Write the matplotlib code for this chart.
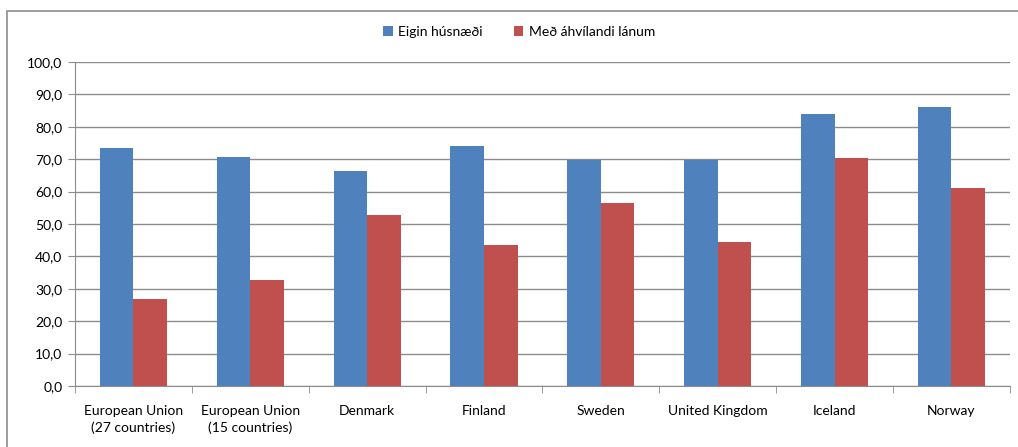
import matplotlib
matplotlib.use("Agg")
import numpy as np
import matplotlib.pyplot as plt
from matplotlib.patches import Rectangle

categories = ["European Union\n(27 countries)", "European Union\n(15 countries)", "Denmark",
              "Finland", "Sweden", "United Kingdom", "Iceland", "Norway"]
eigin = [73.5, 70.8, 66.5, 74.1, 69.9, 69.9, 84.1, 86.1]
lan = [27.0, 32.8, 52.9, 43.6, 56.4, 44.3, 70.5, 61.2]
series_names = ["Eigin húsnæði", "Með áhvílandi lánum"]

plt.rcParams['font.family'] = ['Lato', 'DejaVu Sans']
fig = plt.figure(figsize=(10.18, 4.47), dpi=100)
ax = fig.add_axes([0.0737, 0.1365, 0.9183, 0.7248])

x = np.arange(len(categories))
w = 0.287
ax.bar(x - w / 2, eigin, w, color="#4F81BD", label=series_names[0], zorder=3)
ax.bar(x + w / 2, lan, w, color="#C0504D", label=series_names[1], zorder=3)

ax.set_xlim(-0.5, len(categories) - 0.5)
ax.set_ylim(0, 100)
ax.set_yticks(np.arange(0, 101, 10))
ax.set_yticklabels([f"{v:.1f}".replace(".", ",") for v in np.arange(0, 101, 10)], fontsize=10)
ax.yaxis.grid(True, color="#8c8c8c", linewidth=1, zorder=0)

ax.set_xticks(x)
ax.set_xticklabels(categories, fontsize=10, linespacing=1.35)
ax.set_xticks(np.arange(-0.5, len(categories)), minor=True)
ax.tick_params(axis="x", which="major", length=0, pad=14)
ax.tick_params(axis="x", which="minor", length=5, color="#8c8c8c")
ax.tick_params(axis="y", length=5, color="#8c8c8c", pad=4)

for s in ["top", "right"]:
    ax.spines[s].set_visible(False)
ax.spines["left"].set_color("#8c8c8c")
ax.spines["bottom"].set_color("#8c8c8c")

fig.legend(loc="center", bbox_to_anchor=(0.51, 1 - 32 / 447), ncol=2, frameon=False,
           fontsize=10, handlelength=0.7, handleheight=0.7, columnspacing=2.2, handletextpad=0.4)

fig.patches.append(Rectangle((7 / 1018, -0.1), 1.2, 1.1 - 11 / 447, transform=fig.transFigure,
                             fill=False, edgecolor="#8c8c8c", linewidth=1.2))

fig.savefig("out.png", dpi=100)
